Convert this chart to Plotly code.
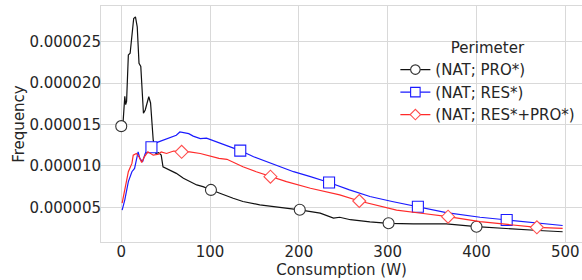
import plotly.graph_objects as go

# Values in units of 1e-6
nat_pro_x = [0, 2, 4, 5, 6, 8, 10, 12, 14, 16, 18, 20, 22, 25, 27, 31, 33, 36, 39, 42, 45, 47, 49, 55, 62, 70,
             77, 85, 92, 101, 111, 126, 137, 156, 179, 201, 224, 235, 239, 246, 258, 280, 301, 329, 366, 400,
             441, 470, 497]
nat_pro_y = [14.8, 15.2, 18.4, 17.4, 17.8, 23.4, 23.6, 25.6, 27.8, 28.0, 26.8, 22.4, 22.0, 16.35, 16.75, 18.35,
             17.6, 13.1, 11.5, 11.6, 11.3, 9.9, 9.8, 9.5, 9.1, 8.5, 8.1, 7.7, 7.5, 7.1, 6.7, 6.1, 5.7, 5.3, 5.0,
             4.7, 4.3, 3.8, 3.7, 3.8, 3.5, 3.25, 3.07, 3.0, 3.0, 2.66, 2.34, 2.2, 2.05]

nat_res_x = [1, 4, 8, 12, 15, 17, 19, 21, 24, 27, 30, 34, 38, 42, 47, 55, 62, 66, 70, 76, 81, 89, 96, 107, 119,
             134, 149, 164, 179, 194, 213, 234, 257, 280, 305, 334, 366, 404, 434, 465, 497]
nat_res_y = [4.67, 5.9, 8.1, 9.3, 9.7, 10.7, 11.7, 10.9, 10.5, 11.5, 12.0, 12.25, 12.7, 12.9, 13.1, 13.45, 13.7,
             14.1, 14.0, 13.9, 13.6, 13.3, 13.35, 12.9, 12.5, 11.85, 11.1, 10.5, 9.9, 9.3, 8.7, 8.0, 7.1, 6.3,
             5.7, 5.07, 4.35, 3.8, 3.47, 3.1, 2.8]

nat_mix_x = [1, 4, 8, 12, 13.5, 17, 20, 23, 26, 30, 36, 42, 45, 51, 59, 68, 77, 89, 102, 110, 119, 137, 152,
             168, 186, 213, 246, 268, 290, 310, 340, 368, 404, 435, 468, 497]
nat_mix_y = [5.5, 7.1, 9.3, 10.3, 11.3, 11.5, 11.1, 10.4, 11.1, 11.7, 11.3, 11.4, 11.7, 11.5, 11.8, 11.7, 11.7,
             11.5, 11.1, 10.9, 10.8, 9.9, 9.3, 8.7, 8.1, 7.3, 6.5, 5.76, 5.2, 4.67, 4.25, 3.87, 3.26, 2.95,
             2.58, 2.46]

pro_marks = [0, 101, 201, 301, 400]
res_marks = [34, 134, 234, 334, 434]
mix_marks = [68, 168, 268, 368, 468]

names = ["(NAT; PRO*)", "(NAT; RES*)", "(NAT; RES*+PRO*)"]
y_ticks = [5, 10, 15, 20, 25]
UNIT = 1e-6

series = [
    (nat_pro_x, nat_pro_y, pro_marks, names[0], "#111111", "#333333", "circle", 11, 9.5),
    (nat_res_x, nat_res_y, res_marks, names[1], "#1a1aff", "#1a1aff", "square", 11, 9.5),
    (nat_mix_x, nat_mix_y, mix_marks, names[2], "#ff2a2a", "#ff4d4d", "diamond", 10, 8),
]

fig = go.Figure()
for xs, ys, marks, name, lc, mc, sym, ms, lms in series:
    yv = [v * UNIT for v in ys]
    fig.add_trace(go.Scatter(x=xs, y=yv, mode="lines", line=dict(color=lc, width=1.2),
                             showlegend=False, hoverinfo="skip"))
    mx = [x for x in xs if x in marks]
    my = [y for x, y in zip(xs, yv) if x in marks]
    fig.add_trace(go.Scatter(x=mx, y=my, mode="markers",
                             marker=dict(symbol=sym, size=ms, color="white", line=dict(color=mc, width=1.1)),
                             showlegend=False))
for xs, ys, marks, name, lc, mc, sym, ms, lms in series:
    fig.add_trace(go.Scatter(x=[None], y=[None], mode="lines+markers", name=name,
                             line=dict(color=lc, width=1.2),
                             marker=dict(symbol=sym, size=lms, color="white", line=dict(color=mc, width=1.1))))

font = dict(family="DejaVu Sans", size=15, color="#262626")
grid = "#d9d9d9"
fig.update_layout(
    width=582, height=280,
    margin=dict(l=101, r=0, t=6, b=38),
    paper_bgcolor="white", plot_bgcolor="white",
    font=font,
    showlegend=True,
    legend=dict(
        title=dict(text="Perimeter", side="top center", font=font),
        x=0.612, y=0.882, xanchor="left", yanchor="top",
        bgcolor="rgba(0,0,0,0)", font=font,
    ),
    xaxis=dict(
        range=[-22.8, 518.8], tickvals=[0, 100, 200, 300, 400, 500],
        showgrid=True, gridcolor=grid, gridwidth=1, zeroline=False,
        showline=True, linecolor=grid, linewidth=1, mirror=True, automargin=False,
        ticks="", ticklabelstandoff=-4,
        title=dict(text="Consumption (W)", font=font, standoff=2),
    ),
    yaxis=dict(
        range=[0.81 * UNIT, 29.31 * UNIT], tickvals=[v * UNIT for v in y_ticks], tickformat=".6f",
        showgrid=True, gridcolor=grid, gridwidth=1, zeroline=False,
        showline=True, linecolor=grid, linewidth=1, mirror=False, automargin=False,
        ticks="", ticklabelstandoff=-4,
        title=dict(text="Frequency", font=font, standoff=1),
    ),
)

fig.write_html("out.html", config={"displayModeBar": False},
               post_script="document.body.style.margin='0';")
